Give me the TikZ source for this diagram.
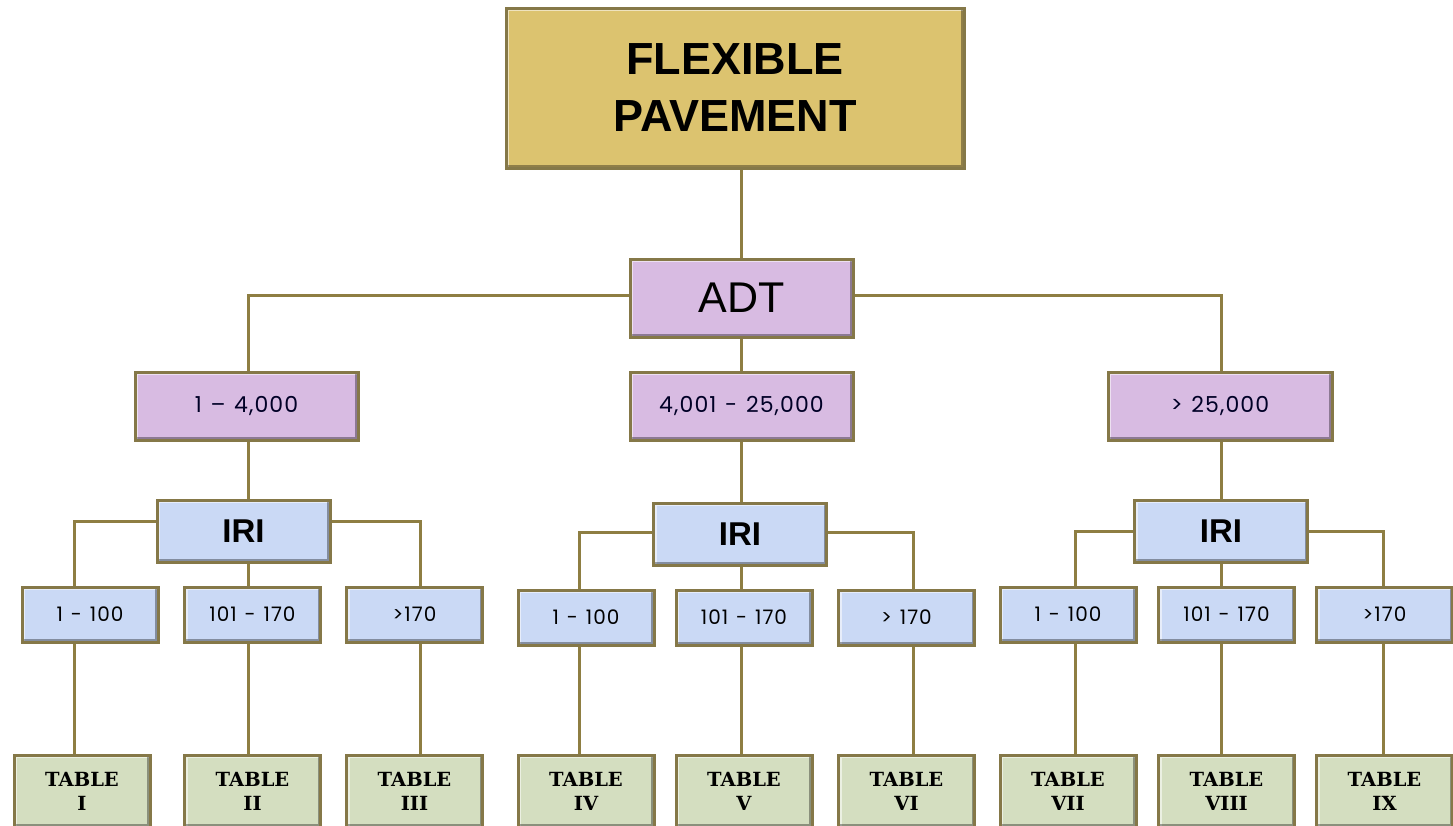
\documentclass[tikz,border=0pt]{standalone}
\usepackage{fontspec}
\newfontfamily\hdfont{Liberation Sans}
\newfontfamily\gtfont[LetterSpace=5,WordSpace=1.25]{Poppins}
\newfontfamily\tbfont{DejaVu Serif}
\usetikzlibrary{backgrounds}
\definecolor{gold}{HTML}{DCC36F}
\definecolor{lilac}{HTML}{D8BBE2}
\definecolor{pblue}{HTML}{CAD9F5}
\definecolor{pgreen}{HTML}{D4DEC0}
\definecolor{rim}{HTML}{857848}
\definecolor{wire}{HTML}{8E7E42}
\tikzset{
  bx/.style={draw=rim, line width=3pt, inner sep=0pt, align=center,
    path picture={
      \draw[white, opacity=0.55, line width=3pt]
        ([shift={(1.5pt,1.5pt)}]path picture bounding box.south west) --
        ([shift={(1.5pt,-1.5pt)}]path picture bounding box.north west) --
        ([shift={(-1.5pt,-1.5pt)}]path picture bounding box.north east);
      \draw[black, opacity=0.35, line width=3pt]
        ([shift={(1.5pt,1.5pt)}]path picture bounding box.south west) --
        ([shift={(-1.5pt,1.5pt)}]path picture bounding box.south east) --
        ([shift={(-1.5pt,-1.5pt)}]path picture bounding box.north east);
    }},
  topbox/.style={bx, fill=gold, minimum width=458pt, minimum height=160pt,
    font=\hdfont\bfseries\fontsize{45}{57}\selectfont},
  adtbox/.style={bx, fill=lilac, minimum width=223pt, minimum height=78pt,
    font=\hdfont\fontsize{43}{46}\selectfont},
  rngbox/.style={bx, fill=lilac, minimum width=223pt, minimum height=68pt,
    font=\gtfont\fontsize{22}{24}\selectfont, text=black!85!blue},
  iribox/.style={bx, fill=pblue, minimum width=173pt, minimum height=62pt,
    font=\hdfont\bfseries\fontsize{33}{34}\selectfont},
  lvbox/.style={bx, fill=pblue, minimum width=136pt, minimum height=55pt,
    font=\gtfont\fontsize{20}{22}\selectfont},
  tbbox/.style={bx, fill=pgreen, minimum width=136pt, minimum height=72pt,
    font=\tbfont\bfseries\fontsize{19.5}{24}\selectfont},
  wr/.style={draw=wire, line width=3pt}
}
\begin{document}
\begin{tikzpicture}[x=1pt,y=-1pt]
\useasboundingbox (0,0) rectangle (1453,825);
% nodes
\node[topbox] (top) at (735,88) {FLEXIBLE\\PAVEMENT};
\node[adtbox] (adt) at (741.5,298) {ADT};
\node[rngbox] (r1) at (246.5,406) {1 – 4,000};
\node[rngbox] (r2) at (741.5,406) {4,001 - 25,000};
\node[rngbox, minimum width=224pt] (r3) at (1220,406) {> 25,000};
\node[iribox] (i1) at (243.5,531) {IRI};
\node[iribox] (i2) at (740,534) {IRI};
\node[iribox] (i3) at (1221,531) {IRI};
\node[lvbox] (l11) at (90,614.5) {1 - 100};
\node[lvbox] (l12) at (252.5,614.5) {101 - 170};
\node[lvbox] (l13) at (414.5,614.5) {>170};
\node[lvbox] (l21) at (586,617.5) {1 - 100};
\node[lvbox] (l22) at (744,617.5) {101 - 170};
\node[lvbox] (l23) at (906.5,617.5) {> 170};
\node[lvbox] (l31) at (1068,614.5) {1 - 100};
\node[lvbox] (l32) at (1226.5,614.5) {101 - 170};
\node[lvbox] (l33) at (1384.5,614.5) {>170};
\node[tbbox] (t1) at (82,791) {TABLE\\I};
\node[tbbox] (t2) at (252.5,791) {TABLE\\II};
\node[tbbox] (t3) at (414.5,791) {TABLE\\III};
\node[tbbox] (t4) at (586,791) {TABLE\\IV};
\node[tbbox] (t5) at (744,791) {TABLE\\V};
\node[tbbox] (t6) at (906.5,791) {TABLE\\VI};
\node[tbbox] (t7) at (1068,791) {TABLE\\VII};
\node[tbbox] (t8) at (1226.5,791) {TABLE\\VIII};
\node[tbbox] (t9) at (1384.5,791) {TABLE\\IX};
% branch x positions
\coordinate (x11) at (74,0);
\coordinate (x12) at (248,0);
\coordinate (x13) at (420,0);
\coordinate (x21) at (579,0);
\coordinate (x22) at (741,0);
\coordinate (x23) at (913,0);
\coordinate (x31) at (1075,0);
\coordinate (x32) at (1221,0);
\coordinate (x33) at (1383,0);
\begin{pgfonlayer}{background}
\fill[white] (0,0) rectangle (1453,825);
\draw[wr] (top.south -| adt) -- (adt);
\draw[wr] ([yshift=3pt]adt.center) -| (r1.north -| x12);
\draw[wr] ([yshift=3pt]adt.center) -| (r3.north -| x32);
\draw[wr] (adt) -- (r2);
\draw[wr] (r1.south -| x12) -- (i1.north -| x12);
\draw[wr] (r2) -- (i2.north -| r2);
\draw[wr] (r3.south -| x32) -- (i3.north -| x32);
% group 1
\draw[wr] ([yshift=10pt]i1.center) -| (t1.north -| x11);
\draw[wr] ([yshift=10pt]i1.center) -| (t3.north -| x13);
\draw[wr] (i1.south -| x12) -- (t2.north -| x12);
% group 2
\draw[wr] ([yshift=2pt]i2.center) -| (t4.north -| x21);
\draw[wr] ([yshift=2pt]i2.center) -| (t6.north -| x23);
\draw[wr] (i2.south -| x22) -- (t5.north -| x22);
% group 3
\draw[wr] (i3.center) -| (t7.north -| x31);
\draw[wr] (i3.center) -| (t9.north -| x33);
\draw[wr] (i3.south -| x32) -- (t8.north -| x32);
\end{pgfonlayer}
\end{tikzpicture}
\end{document}
